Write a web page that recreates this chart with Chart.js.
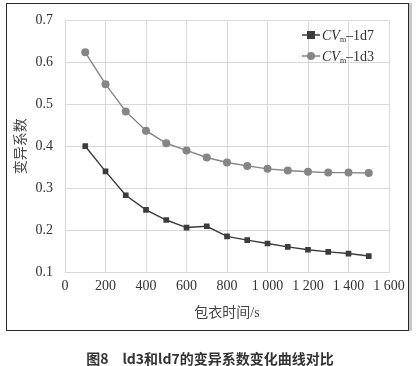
<!DOCTYPE html>
<html>
<head>
<meta charset="utf-8">
<script src="https://cdn.jsdelivr.net/npm/chart.js@4/dist/chart.umd.min.js"></script>
<style>
  body { margin:0; background:#fff; width:420px; height:366px; position:relative; overflow:hidden; }
  #wrap { position:absolute; left:0; top:0; width:420px; height:366px; }
  #frame { position:absolute; left:6px; top:3px; width:401px; height:326px; border:1.5px solid #2a2a2a; box-shadow:3px 0 0 #c8c8c8; pointer-events:none; }
  #caption { position:absolute; left:0; width:420px; top:348px; text-align:center; font:bold 14px "Noto Sans CJK SC", sans-serif; color:#333; }
</style>
</head>
<body>
<div id="frame"></div>
<div id="wrap"><canvas id="cvChart" width="420" height="366"></canvas></div>
<div id="caption">图8　ld3和ld7的变异系数变化曲线对比</div>
<script>
// data
const coatTime = [100, 200, 300, 400, 500, 600, 700, 800, 900, 1000, 1100, 1200, 1300, 1400, 1500];
const cv1d7 = [0.400, 0.340, 0.283, 0.248, 0.224, 0.206, 0.209, 0.185, 0.176, 0.168, 0.160, 0.153, 0.148, 0.144, 0.138];
const cv1d3 = [0.624, 0.548, 0.483, 0.437, 0.407, 0.390, 0.373, 0.361, 0.353, 0.346, 0.342, 0.339, 0.337, 0.337, 0.336];
const seriesNames = ['1d7', '1d3'];

const serif = '"Liberation Serif", "Noto Sans CJK SC", serif';

function pts(ys){
  return coatTime.map((t,i)=>({x:t, y:ys[i]}));
}

// legend with subscript "m", drawn by hand
const cvLegend = {
  id:'cvLegend',
  afterDraw(chart){
    const ctx = chart.ctx;
    const rows = [
      {y:35, ds:chart.data.datasets[0], name:seriesNames[0]},
      {y:56, ds:chart.data.datasets[1], name:seriesNames[1]}
    ];
    ctx.save();
    rows.forEach(r=>{
      ctx.strokeStyle = r.ds.borderColor;
      ctx.lineWidth = 1.5;
      ctx.beginPath(); ctx.moveTo(302, r.y); ctx.lineTo(320, r.y); ctx.stroke();
      ctx.fillStyle = r.ds.pointBackgroundColor;
      if(r.ds.pointStyle === 'rect'){
        ctx.fillRect(307, r.y-4, 8, 8);
      } else {
        ctx.beginPath(); ctx.arc(311, r.y, 4, 0, Math.PI*2); ctx.fill();
      }
      ctx.fillStyle = '#333';
      ctx.textBaseline = 'alphabetic';
      let x = 322;
      ctx.font = 'italic 14px ' + serif;
      ctx.fillText('CV', x, r.y+5);
      x += ctx.measureText('CV').width;
      ctx.font = '8px ' + serif;
      ctx.fillText('m', x, r.y+7);
      x += ctx.measureText('m').width;
      ctx.font = '14px ' + serif;
      ctx.fillText('–' + r.name, x, r.y+5);
    });
    ctx.restore();
  }
};

new Chart(document.getElementById('cvChart'), {
  type:'line',
  data:{
    datasets:[
      { label:'CVm-1d7', data:pts(cv1d7), borderColor:'#3c3c3c', backgroundColor:'#3c3c3c',
        pointBackgroundColor:'#3c3c3c', pointBorderWidth:0, pointStyle:'rect', pointRadius:4, borderWidth:1.4, tension:0 },
      { label:'CVm-1d3', data:pts(cv1d3), borderColor:'#858585', backgroundColor:'#858585',
        pointBackgroundColor:'#858585', pointBorderWidth:0, pointStyle:'circle', pointRadius:4, borderWidth:1.4, tension:0 }
    ]
  },
  options:{
    responsive:false,
    animation:false,
    layout:{ padding:{ left:0, right:31, top:19, bottom:40 } },
    plugins:{ legend:{ display:false }, tooltip:{ enabled:false } },
    scales:{
      x:{
        type:'linear', min:0, max:1600,
        ticks:{ stepSize:200, padding:6, color:'#333', font:{ family:serif, size:14 },
          callback:v => v >= 1000 ? Math.floor(v/1000) + ' ' + String(v%1000).padStart(3,'0') : String(v) },
        grid:{ color:'#d9d9d9', drawTicks:false },
        border:{ color:'#d9d9d9' },
        title:{ display:true, text:'包衣时间/s', color:'#444', font:{ family:serif, size:14 }, padding:{top:6} },
        afterFit(s){ s.height = 54; }
      },
      y:{
        min:0.1, max:0.7,
        ticks:{ stepSize:0.1, padding:12, color:'#333', font:{ family:serif, size:14 },
          callback:v => v.toFixed(1) },
        grid:{ color:'#d9d9d9', drawTicks:false },
        border:{ color:'#d9d9d9' },
        title:{ display:true, text:'变异系数', color:'#444', font:{ family:serif, size:14 }, padding:{top:13, bottom:4} },
        afterFit(s){ s.width = 65; }
      }
    }
  },
  plugins:[cvLegend]
});
</script>
</body>
</html>
